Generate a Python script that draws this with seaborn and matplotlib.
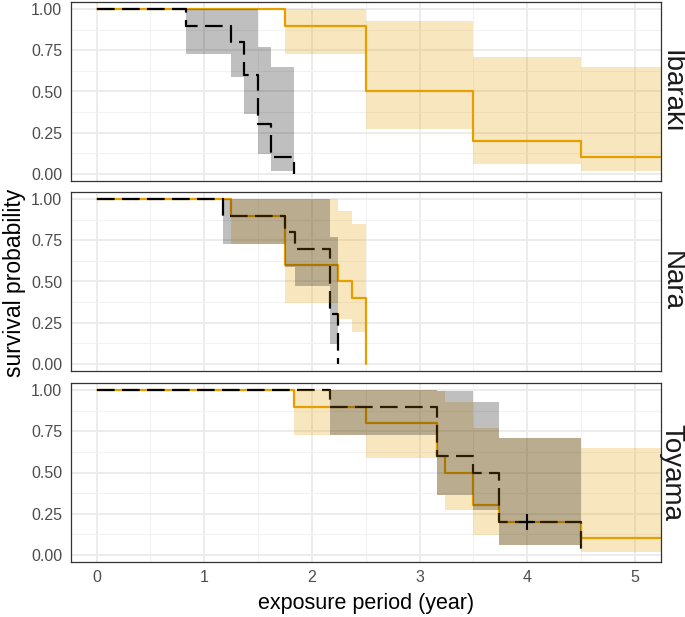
import numpy as np
import pandas as pd
import matplotlib
matplotlib.use("Agg")
import matplotlib.pyplot as plt
import seaborn as sns

# ---------------- data ----------------
sites = ["Ibaraki", "Nara", "Toyama"]

# orange (solid) group
ibaraki_orange_time = [0, 1.75, 2.5, 3.5, 4.5, 5.24]
ibaraki_orange_surv = [1, 0.9, 0.5, 0.2, 0.1, 0.1]
ibaraki_orange_upper = [1, 1, 0.93, 0.71, 0.65, 0.65]
ibaraki_orange_lower = [1, 0.73, 0.27, 0.06, 0.015, 0.015]

nara_orange_time = [0, 1.25, 1.75, 2.24, 2.37, 2.5]
nara_orange_surv = [1, 0.9, 0.6, 0.5, 0.4, 0.0]
nara_orange_upper = [1, 1, 1, 0.93, 0.85, np.nan]
nara_orange_lower = [1, 0.73, 0.37, 0.27, 0.19, np.nan]

toyama_orange_time = [0, 1.83, 2.5, 3.16, 3.24, 3.5, 3.74, 4.5, 5.24]
toyama_orange_surv = [1, 0.9, 0.8, 0.6, 0.5, 0.3, 0.2, 0.1, 0.1]
toyama_orange_upper = [1, 1, 1, 0.995, 0.93, 0.77, 0.71, 0.65, 0.65]
toyama_orange_lower = [1, 0.73, 0.59, 0.36, 0.27, 0.12, 0.06, 0.015, 0.015]

# black (dashed) group
ibaraki_black_time = [0, 0.83, 1.25, 1.37, 1.5, 1.62, 1.83]
ibaraki_black_surv = [1, 0.9, 0.8, 0.6, 0.3, 0.1, 0.0]
ibaraki_black_upper = [1, 1, 1, 1, 0.77, 0.65, np.nan]
ibaraki_black_lower = [1, 0.73, 0.59, 0.36, 0.12, 0.015, np.nan]

nara_black_time = [0, 1.17, 1.75, 1.84, 2.17, 2.24]
nara_black_surv = [1, 0.9, 0.8, 0.7, 0.3, 0.0]
nara_black_upper = [1, 1, 1, 1, 0.77, np.nan]
nara_black_lower = [1, 0.73, 0.59, 0.47, 0.12, np.nan]

toyama_black_time = [0, 2.17, 3.16, 3.5, 3.74, 4.5]
toyama_black_surv = [1, 0.9, 0.6, 0.5, 0.2, 0.0]
toyama_black_upper = [1, 1, 0.995, 0.93, 0.71, np.nan]
toyama_black_lower = [1, 0.73, 0.36, 0.27, 0.06, np.nan]

# censor marks
censor_site = ["Toyama"]
censor_time = [4.0]
censor_surv = [0.2]

x_ticks = [0, 1, 2, 3, 4, 5]
y_ticks = [0.0, 0.25, 0.5, 0.75, 1.0]
y_ticklabels = ["0.00", "0.25", "0.50", "0.75", "1.00"]

ORANGE = "#E69F00"
BLACK = "#000000"

curves = {
    "Ibaraki": [
        (ibaraki_orange_time, ibaraki_orange_surv, ibaraki_orange_upper, ibaraki_orange_lower, ORANGE, "-"),
        (ibaraki_black_time, ibaraki_black_surv, ibaraki_black_upper, ibaraki_black_lower, BLACK, "--"),
    ],
    "Nara": [
        (nara_orange_time, nara_orange_surv, nara_orange_upper, nara_orange_lower, ORANGE, "-"),
        (nara_black_time, nara_black_surv, nara_black_upper, nara_black_lower, BLACK, "--"),
    ],
    "Toyama": [
        (toyama_orange_time, toyama_orange_surv, toyama_orange_upper, toyama_orange_lower, ORANGE, "-"),
        (toyama_black_time, toyama_black_surv, toyama_black_upper, toyama_black_lower, BLACK, "--"),
    ],
}

# ---------------- style ----------------
sns.set_theme(style="white")
plt.rcParams["font.family"] = ["Liberation Sans", "DejaVu Sans"]
plt.rcParams["lines.scale_dashes"] = False

W, H = 685, 617
fig = plt.figure(figsize=(W / 100, H / 100), dpi=100)

left_px, right_px = 70.7, 660.7
panel_tops = [2.0, 192.0, 383.0]
panel_h = 179.0

axes = []
for i, site in enumerate(sites):
    top = panel_tops[i]
    ax = fig.add_axes([left_px / W, 1 - (top + panel_h) / H,
                       (right_px - left_px) / W, panel_h / H])
    axes.append(ax)
    ax.set_facecolor("white")

    # grid
    ax.set_xticks([0.5, 1.5, 2.5, 3.5, 4.5], minor=True)
    ax.set_yticks([0.125, 0.375, 0.625, 0.875], minor=True)
    ax.set_xticks(x_ticks)
    ax.set_yticks(y_ticks)
    ax.set_yticklabels(y_ticklabels)
    ax.grid(which="major", color="#EBEBEB", linewidth=1.3, zorder=0)
    ax.grid(which="minor", color="#F2F2F2", linewidth=0.8, zorder=0)
    ax.set_axisbelow(True)

    # lines (drawn first, ribbons over them as in ggsurvplot)
    for (t, s, up, lo, col, ls) in curves[site]:
        df = pd.DataFrame({"time": t, "surv": s})
        sns.lineplot(data=df, x="time", y="surv", ax=ax, color=col,
                     drawstyle="steps-post", estimator=None, sort=False,
                     linewidth=1.6, zorder=2 if col == ORANGE else 2.5)
        if ls == "--":
            ax.lines[-1].set_linestyle((0, (12.7, 5.3)))

    # ribbons
    for (t, s, up, lo, col, ls) in curves[site]:
        band = pd.DataFrame({"time": t, "upper": up, "lower": lo}).ffill()
        ax.fill_between(band["time"], band["lower"], band["upper"],
                        step="post", color=col, alpha=0.25, linewidth=0,
                        zorder=3)

    # censor marks
    cdf = pd.DataFrame({"site": censor_site, "time": censor_time, "surv": censor_surv})
    cdf = cdf[cdf["site"] == site]
    if len(cdf):
        sns.scatterplot(data=cdf, x="time", y="surv", ax=ax, marker="+",
                        s=140, color=BLACK, linewidth=1.5, zorder=4)

    ax.set_xlim(-0.24, 5.24)
    ax.set_ylim(-0.045, 1.045)
    ax.set_xlabel("")
    ax.set_ylabel("")
    for sp in ax.spines.values():
        sp.set_visible(True)
        sp.set_color("#333333")
        sp.set_linewidth(0.9)
        sp.set_zorder(5)
    ax.tick_params(axis="both", which="major", direction="out", length=3.5,
                   width=1.0, color="#333333", labelcolor="#4D4D4D",
                   labelsize=11.5, pad=2.5)
    ax.tick_params(axis="both", which="minor", length=0)
    if i < 2:
        ax.tick_params(axis="x", labelbottom=False, length=0)

    # strip label (right side, rotated)
    fig.text(671.5 / W, 1 - (top + panel_h / 2) / H, site, rotation=270,
             ha="center", va="center", fontsize=20, color="#1A1A1A")

fig.text((left_px + right_px) / 2 / W, 1 - 603 / H, "exposure period (year)",
         ha="center", va="center", fontsize=15.5, color="black")
fig.text(15 / W, 1 - 282.5 / H, "survival probability", rotation=90,
         ha="center", va="center", fontsize=16.5, color="black")

fig.savefig("out.png", dpi=100)
